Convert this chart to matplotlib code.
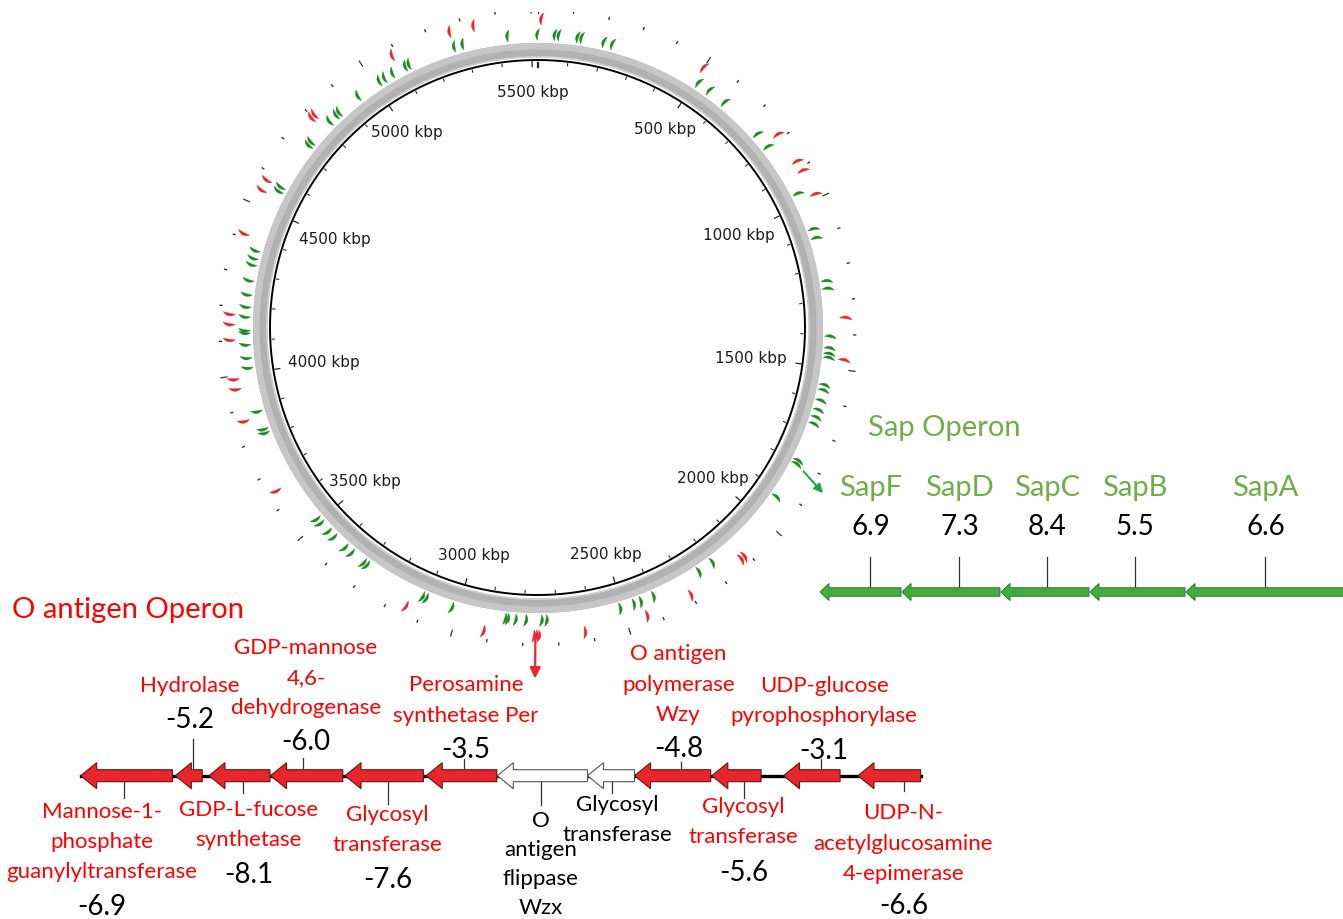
import numpy as np
import matplotlib
matplotlib.use("Agg")
import matplotlib.pyplot as plt
from matplotlib.patches import Polygon, Rectangle

# ---------------- data ----------------
GENOME_KBP = 5518
ruler_labels_kbp = [500, 1000, 1500, 2000, 2500, 3000, 3500, 4000, 4500, 5000, 5500]

# predicted genes on the circular map (kbp), green = plus strand, red = minus strand
plus_genes_kbp = [
    3, 55, 67, 124, 136, 204, 230, 515, 555, 613, 750, 799, 966, 1082, 1110,
    1243, 1266, 1410, 1445, 1462, 1474, 1557, 1573, 1605, 1634, 1657, 1678,
    1798, 1809, 1925, 2201, 2250, 2405, 2446, 2468, 2511, 2735, 2750, 2797,
    2828, 2851, 2859, 3023, 3105, 3117, 3310, 3322, 3369, 3394, 3440, 3464,
    3498, 3515, 3818, 3830, 3886, 4020, 4050, 4090, 4125, 4133, 4174, 4204,
    4241, 4284, 4332, 4352, 4376, 4568, 4582, 4733, 4745, 4828, 4855, 4867,
    4942, 5020, 5038, 5066, 5110, 5122, 5268, 5294, 5431,
]
minus_genes_kbp = [
    14, 503, 789, 883, 914, 990, 1355, 1476, 2117, 2129, 2305, 2443, 2626,
    2758, 2765, 2772, 2917, 3150, 3651, 3870, 3964, 3993, 4106, 4151, 4180,
    4414, 4548, 4580, 4799, 4811, 5090, 5267, 5337,
]
o_operon_kbp = 2765
sap_operon_kbp = 1815

# O antigen operon (kb from operon start)
o_names = [
    ["Mannose-1-", "phosphate", "guanylyltransferase"],
    ["Hydrolase"],
    ["GDP-L-fucose", "synthetase"],
    ["GDP-mannose", "4,6-", "dehydrogenase"],
    ["Glycosyl", "transferase"],
    ["Perosamine", "synthetase Per"],
    ["O", "antigen", "flippase", "Wzx"],
    ["Glycosyl", "transferase"],
    ["O antigen", "polymerase", "Wzy"],
    ["Glycosyl", "transferase"],
    ["UDP-glucose", "pyrophosphorylase"],
    ["UDP-N-", "acetylglucosamine", "4-epimerase"],
]
o_scores = [-6.9, -5.2, -8.1, -6.0, -7.6, -3.5, None, None, -4.8, -5.6, -3.1, -6.6]
o_left_kb = [0.00, 1.69, 2.29, 3.39, 4.72, 6.17, 7.44, 9.05, 9.89, 11.27, 12.55, 13.88]
o_right_kb = [1.64, 2.17, 3.38, 4.68, 6.12, 7.43, 9.05, 9.89, 11.25, 12.15, 13.56, 15.00]
o_scored = [s is not None for s in o_scores]

# Sap operon (kb from operon start)
sap_names = ["SapF", "SapD", "SapC", "SapB", "SapA"]
sap_scores = [6.9, 7.3, 8.4, 5.5, 6.6]
sap_left_kb = [0.00, 0.82, 1.81, 2.70, 3.66]
sap_right_kb = [0.81, 1.80, 2.69, 3.65, 5.36]

# ---------------- styling ----------------
W, H = 1343, 920
RED = "#e8262b"
TXT_RED = "#ff0000"
DARK_GREEN = "#1f8a22"
SAP_GREEN = "#70ad47"
ARROW_GREEN = "#3fae3f"
LABEL_FONT = ["Lato", "DejaVu Sans"]

fig = plt.figure(figsize=(W / 100, H / 100), dpi=100)
fig.patch.set_facecolor("white")

# ---------------- circular genome map ----------------
CX, CY, RMAX = 537.5, 328.5, 360.0
axm = fig.add_axes([(CX - RMAX) / W, (H - CY - RMAX) / H, 2 * RMAX / W, 2 * RMAX / H],
                   projection="polar")
axm.set_theta_zero_location("N")
axm.set_theta_direction(-1)
axm.set_ylim(0, RMAX)
axm.set_axis_off()
axm.set_zorder(3)


def ang(kbp):
    return 2 * np.pi * np.asarray(kbp, dtype=float) / GENOME_KBP


th = np.linspace(0, 2 * np.pi, 1441)
axm.fill_between(th, 270.5, 285.0, color="#b1b1b1", lw=0)
axm.fill_between(th, 278.5, 285.0, color="#c6c6c6", lw=0)
axm.fill_between(th, 270.5, 272.0, color="#d0d0d0", lw=0)
axm.plot(th, np.full_like(th, 267.5), color="black", lw=1.4)

# ruler ticks (inner and outer)
for k in np.arange(0, GENOME_KBP, 100):
    t = ang(k)
    major = k % 500 == 0
    if major:
        axm.plot([t, t], [261.0, 266.0], color="#222222", lw=0.9)
        axm.plot([t, t], [314.5, 320.5], color="#333333", lw=0.9)
    else:
        axm.plot([t, t], [263.3, 265.6], color="#333333", lw=0.8)
        axm.plot([t, t], [316.4, 318.2], color="#333333", lw=1.0)
# end-of-sequence tick
t_end = ang(GENOME_KBP - 0.001)
axm.plot([t_end, t_end], [261.0, 266.0], color="#222222", lw=0.9)

for k in ruler_labels_kbp:
    t = ang(k)
    f = np.clip((abs(np.sin(t)) - 0.5) / 0.5, 0, 1)
    r = 236.0 - 21.0 * f ** 2
    axm.text(t, r, f"{k} kbp", ha="center", va="center", fontsize=11,
             color="#1c1c1c", family="DejaVu Sans")


def gene_mark(kbp, r0, length, half_w, bend, tilt_deg, color):
    t0 = float(ang(kbp))
    s = np.linspace(-1, 1, 17)
    u = s * length / 2
    mid = bend * (1 - s ** 2)
    hw = half_w * (1 - s ** 2)
    uu = np.concatenate([u, u[::-1]])
    vv = np.concatenate([mid + hw, (mid - hw)[::-1]])
    a = np.radians(tilt_deg)
    ur = uu * np.cos(a) - vv * np.sin(a)
    vr = uu * np.sin(a) + vv * np.cos(a)
    r = r0 + ur
    theta = t0 + vr / r0
    axm.add_patch(Polygon(np.column_stack([theta, r]), closed=True,
                          fc=color, ec=color, lw=0.25))


for k in plus_genes_kbp:
    gene_mark(k, 293.0, 12.0, 1.35, -1.6, 10, DARK_GREEN)
for k in minus_genes_kbp:
    gene_mark(k, 308.5, 12.5, 1.35, -1.6, 10, RED)

# pointers from the map to the operon diagrams
axm.annotate("", xy=(ang(o_operon_kbp), 351.0), xytext=(ang(o_operon_kbp), 314.0),
             arrowprops=dict(arrowstyle="-|>", color=RED, lw=1.6,
                             mutation_scale=16, shrinkA=0, shrinkB=0))
axm.annotate("", xy=(ang(sap_operon_kbp + 26), 330.0), xytext=(ang(sap_operon_kbp), 302.5),
             arrowprops=dict(arrowstyle="-|>", color="#16a34a", lw=1.4,
                             mutation_scale=13, shrinkA=0, shrinkB=0))

# ---------------- titles ----------------
axp = fig.add_axes([0, 0, 1, 1])
axp.set_xlim(0, W)
axp.set_ylim(H, 0)
axp.set_axis_off()
axp.set_zorder(5)
# image is trimmed just above the outermost ruler ring
axp.add_patch(Rectangle((0, 0), W, 12.5, fc="white", ec="none"))
axp.text(12, 610, "O antigen Operon", ha="left", va="center", fontsize=21,
         color=TXT_RED, family=LABEL_FONT)
axp.text(868, 428, "Sap Operon", ha="left", va="center", fontsize=21,
         color=SAP_GREEN, family=LABEL_FONT)


def draw_gene(ax, left, right, yc, body_h, head_h, head_kb, fc, ec, lw):
    hb = min(left + head_kb, right)
    verts = [(left, yc), (hb, yc - head_h / 2), (hb, yc - body_h / 2),
             (right, yc - body_h / 2), (right, yc + body_h / 2),
             (hb, yc + body_h / 2), (hb, yc + head_h / 2)]
    ax.add_patch(Polygon(verts, closed=True, fc=fc, ec=ec, lw=lw, zorder=3))


# ---------------- O antigen operon ----------------
O_X0, O_PX_KB, O_Y = 80.7, 56.0, 776.7
axo = fig.add_axes([0, 0, 1, 1])
axo.set_xlim(-O_X0 / O_PX_KB, (W - O_X0) / O_PX_KB)
axo.set_ylim(H, 0)
axo.set_axis_off()

axo.plot([o_left_kb[0], o_right_kb[-1]], [O_Y, O_Y], color="black", lw=2.4, zorder=1)

o_side = ["below", "above", "below", "above", "below", "above",
          "below", "below", "above", "below", "above", "below"]
o_leader_end = [799.3, 740.0, 794.0, 759.3, 805.0, 760.0, 805.7, 794.0, 763.3, 799.3, 760.0, 791.7]
o_name_y = [811.7, 685.7, 810.0, 708.3, 815.0, 715.7, 821.0, 805.0, 715.0, 806.7, 716.0, 813.3]
o_num_y = [906.7, 720.0, 875.0, 741.7, 880.0, 750.0, None, None, 749.3, 873.3, 751.0, 906.0]
o_line = [30.3, 30.3, 30.3, 30.3, 30.3, 30.3, 29.0, 30.3, 30.3, 30.3, 30.3, 30.3]
o_leader_dx = [-2.4, 4.6, 3.1, -4.0, 3.5, 2.6, -1.3, 0.9, 8.5, 7.6, 9.3, 14.8]
o_text_dx = [-22.6, -3.3, 6.0, 3.3, -0.4, 2.0, -0.3, 5.0, -2.7, -0.7, 3.0, -0.7]

for i in range(len(o_names)):
    left, right = o_left_kb[i], o_right_kb[i]
    red_gene = o_scored[i]
    draw_gene(axo, left, right, O_Y, 12.0, 26.0, 16.0 / O_PX_KB,
              RED if red_gene else "white", "#5a1a1a" if red_gene else "#555555", 0.8)
    xl = (left + right) / 2 + o_leader_dx[i] / O_PX_KB
    xt = xl + o_text_dx[i] / O_PX_KB
    if o_side[i] == "above":
        axo.plot([xl, xl], [O_Y - 6, o_leader_end[i]], color="#333333", lw=0.9, zorder=2)
    else:
        axo.plot([xl, xl], [O_Y + 6, o_leader_end[i]], color="#333333", lw=0.9, zorder=2)
    lines = o_names[i]
    n = len(lines)
    tcol = TXT_RED if red_gene else "black"
    for j, s in enumerate(lines):
        if o_side[i] == "above":
            y = o_name_y[i] - (n - 1 - j) * o_line[i]
        else:
            y = o_name_y[i] + j * o_line[i]
        axo.text(xt, y, s, ha="center", va="center", fontsize=16, color=tcol,
                 family=LABEL_FONT, zorder=4)
    if o_scores[i] is not None:
        axo.text(xt, o_num_y[i], f"{o_scores[i]:.1f}", ha="center", va="center",
                 fontsize=20, color="black", family=LABEL_FONT, zorder=4)

# ---------------- Sap operon ----------------
S_X0, S_PX_KB, S_Y = 820.0, 100.0, 593.0
axs = fig.add_axes([0, 0, 1, 1])
axs.set_xlim(-S_X0 / S_PX_KB, (W - S_X0) / S_PX_KB)
axs.set_ylim(H, 0)
axs.set_axis_off()

sap_leader_dx = [10.0, 8.5, 2.5, -2.7, -5.5]
for i, name in enumerate(sap_names):
    left, right = sap_left_kb[i], sap_right_kb[i]
    draw_gene(axs, left, right, S_Y, 8.5, 17.0, 9.0 / S_PX_KB, ARROW_GREEN, "#2b7a2b", 0.7)
    xl = (left + right) / 2 + sap_leader_dx[i] / S_PX_KB
    axs.plot([xl, xl], [S_Y - 4, 558.0], color="#333333", lw=0.9, zorder=2)
    axs.text(xl, 488, name, ha="center", va="center", fontsize=21, color=SAP_GREEN,
             family=LABEL_FONT)
    axs.text(xl, 527, f"{sap_scores[i]:.1f}", ha="center", va="center", fontsize=20,
             color="black", family=LABEL_FONT)

fig.savefig("out.png", dpi=100, facecolor="white")
